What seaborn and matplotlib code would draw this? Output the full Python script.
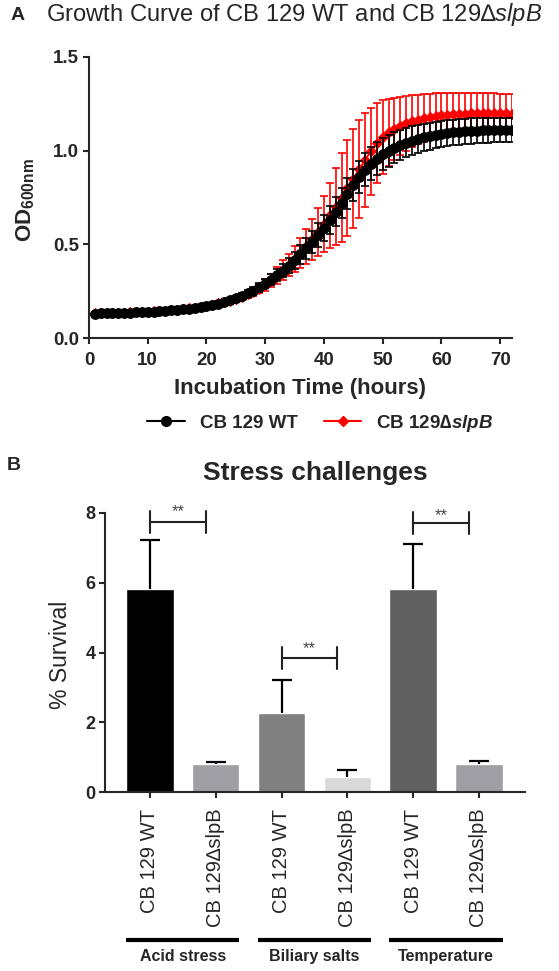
import numpy as np
import pandas as pd
import matplotlib
matplotlib.use("Agg")
import matplotlib.pyplot as plt
from matplotlib.lines import Line2D
from matplotlib.transforms import blended_transform_factory
import seaborn as sns

sns.set_style("ticks")
plt.rcParams["font.family"] = ["Liberation Sans", "DejaVu Sans"]
plt.rcParams["mathtext.fontset"] = "custom"
plt.rcParams["mathtext.rm"] = "Liberation Sans"
plt.rcParams["mathtext.it"] = "Liberation Sans:italic"
plt.rcParams["mathtext.bf"] = "Liberation Sans:bold"
plt.rcParams["mathtext.bfit"] = "Liberation Sans:italic:bold"

# ==========================================
# DATA - panel A (growth curve, hourly OD600)
# ==========================================
hours = list(range(1, 73))

wt_mean = [
    0.130, 0.131, 0.132, 0.133, 0.134, 0.135, 0.136, 0.137, 0.138, 0.139,
    0.141, 0.143, 0.145, 0.147, 0.150, 0.153, 0.157, 0.161, 0.166, 0.172,
    0.177, 0.184, 0.192, 0.201, 0.212, 0.224, 0.238, 0.253, 0.270, 0.290,
    0.311, 0.334, 0.359, 0.386, 0.415, 0.446, 0.479, 0.513, 0.549, 0.586,
    0.628, 0.674, 0.722, 0.770, 0.817, 0.860, 0.898, 0.930, 0.958, 0.981,
    1.000, 1.016, 1.030, 1.043, 1.054, 1.063, 1.071, 1.078, 1.084, 1.089,
    1.093, 1.097, 1.100, 1.103, 1.105, 1.107, 1.108, 1.109, 1.110, 1.111,
    1.112, 1.112,
]
wt_sd = [
    0.005, 0.005, 0.005, 0.005, 0.005, 0.005, 0.005, 0.005, 0.005, 0.005,
    0.006, 0.006, 0.006, 0.006, 0.006, 0.007, 0.007, 0.007, 0.008, 0.008,
    0.009, 0.010, 0.011, 0.012, 0.013, 0.015, 0.017, 0.019, 0.022, 0.025,
    0.028, 0.032, 0.036, 0.040, 0.045, 0.050, 0.055, 0.060, 0.065, 0.070,
    0.074, 0.078, 0.081, 0.084, 0.086, 0.087, 0.088, 0.088, 0.087, 0.086,
    0.085, 0.083, 0.081, 0.079, 0.077, 0.075, 0.073, 0.072, 0.071, 0.070,
    0.069, 0.068, 0.068, 0.067, 0.067, 0.066, 0.066, 0.066, 0.065, 0.065,
    0.065, 0.065,
]
ko_mean = [
    0.131, 0.132, 0.133, 0.134, 0.135, 0.136, 0.137, 0.138, 0.139, 0.140,
    0.142, 0.144, 0.146, 0.148, 0.151, 0.154, 0.158, 0.162, 0.167, 0.173,
    0.178, 0.185, 0.192, 0.200, 0.210, 0.221, 0.234, 0.247, 0.264, 0.284,
    0.307, 0.333, 0.362, 0.390, 0.421, 0.454, 0.489, 0.527, 0.567, 0.610,
    0.655, 0.700, 0.750, 0.800, 0.850, 0.900, 0.950, 0.998, 1.040, 1.072,
    1.097, 1.117, 1.133, 1.146, 1.157, 1.166, 1.174, 1.181, 1.186, 1.190,
    1.193, 1.195, 1.197, 1.198, 1.199, 1.200, 1.200, 1.200, 1.200, 1.199,
    1.199, 1.198,
]
ko_sd = [
    0.004, 0.004, 0.004, 0.004, 0.004, 0.004, 0.004, 0.004, 0.005, 0.005,
    0.005, 0.005, 0.005, 0.005, 0.006, 0.006, 0.006, 0.007, 0.007, 0.008,
    0.009, 0.010, 0.011, 0.012, 0.014, 0.016, 0.019, 0.022, 0.026, 0.031,
    0.037, 0.044, 0.052, 0.061, 0.071, 0.082, 0.095, 0.110, 0.128, 0.150,
    0.175, 0.205, 0.235, 0.255, 0.265, 0.262, 0.250, 0.232, 0.213, 0.196,
    0.180, 0.166, 0.155, 0.146, 0.139, 0.133, 0.128, 0.124, 0.121, 0.118,
    0.116, 0.114, 0.112, 0.111, 0.110, 0.109, 0.108, 0.107, 0.106, 0.105,
    0.104, 0.103,
]

# ==========================================
# DATA - panel B (stress challenges)
# ==========================================
bar_ids = ["acid_wt", "acid_ko", "bile_wt", "bile_ko", "temp_wt", "temp_ko"]
bar_labels = ["CB 129 WT", "CB 129\u2206slpB"] * 3
survival = [5.82, 0.79, 2.27, 0.43, 5.82, 0.80]
survival_err = [1.40, 0.08, 0.94, 0.20, 1.29, 0.10]
bar_colors = ["#000000", "#9e9ea4", "#808080", "#d9d9d9", "#616161", "#9e9ea4"]
groups = ["Acid stress", "Biliary salts", "Temperature"]
bracket_y = [7.74, 3.84, 7.72]
star_y = [8.03, 4.11, 7.93]

# ==========================================
# FIGURE
# ==========================================
fig = plt.figure(figsize=(5.59, 9.71), dpi=100)
fig.patch.set_facecolor("white")

axA = fig.add_axes([0.1592, 0.6519, 0.7567, 0.2894])
axB = fig.add_axes([0.1878, 0.1843, 0.7513, 0.2874])

# ---- Panel A ----
axA.errorbar(hours, ko_mean, yerr=ko_sd, fmt="none", ecolor="#ff0000",
             elinewidth=1.2, capsize=3, capthick=1.2, zorder=2)
sns.lineplot(x=hours, y=ko_mean, color="#ff0000", marker="D", markersize=5,
             markeredgecolor="#ff0000", linewidth=1.4, ax=axA, zorder=3)
axA.errorbar(hours, wt_mean, yerr=wt_sd, fmt="none", ecolor="black",
             elinewidth=1.2, capsize=3, capthick=1.2, zorder=4)
sns.lineplot(x=hours, y=wt_mean, color="black", marker="o", markersize=7,
             markeredgecolor="black", linewidth=1.4, ax=axA, zorder=5)

axA.set_xlim(0, 72)
axA.set_ylim(0, 1.5)
axA.set_xticks(range(0, 71, 10))
axA.set_yticks([0.0, 0.5, 1.0, 1.5])
axA.set_yticklabels(["0.0", "0.5", "1.0", "1.5"])
sns.despine(ax=axA)
for s in ["left", "bottom"]:
    axA.spines[s].set_linewidth(1.5)
axA.tick_params(direction="out", length=4, width=1.5, labelsize=13.5, pad=3)
axA.tick_params(axis="x", pad=6)
for lab in axA.get_xticklabels() + axA.get_yticklabels():
    lab.set_fontweight("bold")
axA.set_xlabel("Incubation Time (hours)", fontsize=16, fontweight="bold")
axA.xaxis.set_label_coords(0.5, -0.142)
axA.set_ylabel(r"$\mathbf{OD}_{\mathbf{600nm}}$", fontsize=16)
axA.yaxis.set_label_coords(-0.123, 0.49)

fig.text(18 / 559, 1 - 15 / 971, "A", fontsize=14, fontweight="bold",
         ha="center", va="center")
fig.text(46 / 559, 1 - 15 / 971, "Growth Curve of CB 129 WT and CB 129\u2206$\\mathit{slpB}$",
         fontsize=17.1, ha="left", va="center")

handles = [
    Line2D([0], [0], color="black", marker="o", markersize=7, linewidth=1.5),
    Line2D([0], [0], color="#ff0000", marker="D", markersize=5, linewidth=1.5),
]
fig.legend(handles, ["CB 129 WT", "CB 129\u2206$\\mathbfit{slpB}$"],
           loc="center", bbox_to_anchor=(0.573, 1 - 423 / 971), ncol=2,
           frameon=False, handlelength=2.0, columnspacing=1.4,
           prop={"weight": "bold", "size": 13.5})

# ---- Panel B ----
df_b = pd.DataFrame({"sample": bar_ids, "survival": survival})
sns.barplot(data=df_b, x="sample", y="survival", hue="sample", order=bar_ids,
            hue_order=bar_ids, palette=bar_colors, saturation=1, width=0.72,
            legend=False, ax=axB, zorder=2)
eb = axB.errorbar(range(len(bar_ids)), survival,
                  yerr=[np.zeros(len(bar_ids)), survival_err], fmt="none",
                  ecolor="black", elinewidth=1.6, capsize=7.5, capthick=1.6, zorder=3)
# only the upper cap is drawn
eb[1][0].set_visible(False)

axB.set_xlim(-0.684, 5.70)
axB.set_ylim(0, 8)
axB.set_yticks([0, 2, 4, 6, 8])
axB.set_xticks(range(len(bar_ids)))
axB.set_xticklabels(bar_labels, rotation=90, fontsize=14.5)
sns.despine(ax=axB)
for s in ["left", "bottom"]:
    axB.spines[s].set_linewidth(1.5)
axB.tick_params(direction="out", length=4, width=1.5, pad=3)
axB.tick_params(axis="y", labelsize=13)
axB.tick_params(axis="x", pad=8)
for lab in axB.get_yticklabels():
    lab.set_fontweight("bold")
axB.set_xlabel("")
axB.set_ylabel("% Survival", fontsize=16.5)
axB.yaxis.set_label_coords(-0.079, 0.49)

# significance brackets
for i, (by, sy) in enumerate(zip(bracket_y, star_y)):
    x0 = 2 * i
    x1 = 2 * i + 0.85
    axB.plot([x0, x1], [by, by], color="#222222", lw=1.5, clip_on=False, zorder=4)
    axB.plot([x0, x0], [by - 0.32, by + 0.32], color="#222222", lw=1.5, clip_on=False, zorder=4)
    axB.plot([x1, x1], [by - 0.32, by + 0.32], color="#222222", lw=1.5, clip_on=False, zorder=4)
    axB.text((x0 + x1) / 2, sy, "**", ha="center", va="center", fontsize=12,
             color="#444444", clip_on=False)

# group underlines and labels
trans = blended_transform_factory(axB.transData, fig.transFigure)
for i, g in enumerate(groups):
    c = 2 * i + 0.5
    axB.plot([c - 0.86, c + 0.86], [1 - 940 / 971] * 2, transform=trans,
             color="black", lw=3, clip_on=False, solid_capstyle="butt")
    axB.text(c, 1 - 956 / 971, g, transform=trans, ha="center", va="center",
             fontsize=11.5, fontweight="bold")

fig.text(14 / 559, 1 - 466 / 971, "B", fontsize=14, fontweight="bold",
         ha="center", va="center")
fig.text(315 / 559, 1 - 473 / 971, "Stress challenges", fontsize=19,
         fontweight="bold", ha="center", va="center")

plt.savefig("out.png", dpi=100)
plt.close()
